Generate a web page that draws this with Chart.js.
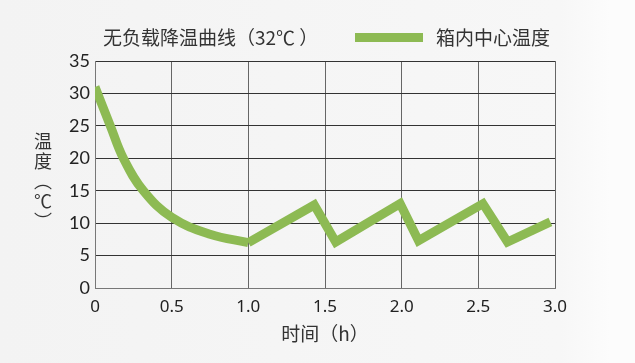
<!DOCTYPE html>
<html>
<head>
<meta charset="utf-8">
<script src="https://cdn.jsdelivr.net/npm/chart.js@4"></script>
<style>
  html, body { margin: 0; padding: 0; }
  body {
    width: 635px; height: 363px; overflow: hidden; position: relative;
    background: linear-gradient(to right, #f3f3f3 0, #f7f7f7 560px, #fcfcfc 610px);
    font-family: "Noto Sans CJK SC", "Noto Sans", sans-serif;
    color: #333;
  }
  #wrap { position: absolute; left: 0; top: 0; width: 635px; height: 363px; }
  .title { position: absolute; left: 103px; top: 23px; font-size: 19px; line-height: 28px; }
  .legend { position: absolute; left: 355px; top: 23px; font-size: 19px; line-height: 28px; display: flex; align-items: center; }
  .legend .bar { display: inline-block; width: 68px; height: 9px; margin-right: 13px; }
  .ytitle { position: absolute; left: 32px; width: 22px; top: 130px; font-size: 18px; line-height: 20px; text-align: center; }
  .ytitle span { display: block; height: 20px; }
  .xtitle { position: absolute; left: 0; width: 650px; text-align: center; top: 320px; font-size: 19px; line-height: 26px; }
</style>
</head>
<body>
<div id="wrap"><canvas id="chart" width="635" height="363"></canvas></div>
<div class="title">无负载降温曲线（32℃ ）</div>
<div class="legend" id="legend"></div>
<div class="ytitle"><span>温</span><span>度</span><span>︵</span><span>℃</span><span>︶</span></div>
<div class="xtitle">时间（h）</div>
<script>
// pull-down curve (first hour, smooth) and door/defrost cycles afterwards
const curveTimes = [0, 0.1, 0.185, 0.315, 0.5, 0.75, 1.0];
const curveTemps = [31, 25, 20, 15, 10.9, 8.3, 7.0];
const cycleTimes = [1.0, 1.43, 1.57, 1.99, 2.11, 2.53, 2.69, 2.97];
const cycleTemps = [7.0, 12.8, 7.1, 13.0, 7.3, 13.0, 7.1, 10.2];

const xTicks = ["0", "0.5", "1.0", "1.5", "2.0", "2.5", "3.0"];
const yTicks = [0, 5, 10, 15, 20, 25, 30, 35];
const seriesName = "箱内中心温度";
const lineColor = "#8dba53";

const toPoints = (xs, ys) => xs.map((x, i) => ({ x: x, y: ys[i] }));

const legend = document.getElementById("legend");
legend.innerHTML = '<span class="bar" style="background:' + lineColor + '"></span>' + seriesName;

const ctx = document.getElementById("chart");
new Chart(ctx, {
  type: "line",
  data: {
    datasets: [
      {
        label: seriesName,
        data: toPoints(curveTimes, curveTemps),
        borderColor: lineColor,
        borderWidth: 9,
        pointRadius: 0,
        tension: 0.4,
        borderCapStyle: "butt",
        borderJoinStyle: "miter",
      },
      {
        label: seriesName,
        data: toPoints(cycleTimes, cycleTemps),
        borderColor: lineColor,
        borderWidth: 9,
        pointRadius: 0,
        tension: 0,
        borderJoinStyle: "miter",
      },
    ],
  },
  options: {
    responsive: false,
    animation: false,
    layout: { padding: { left: 0, right: 80, top: 61, bottom: 0 } },
    plugins: {
      legend: { display: false },
      tooltip: { enabled: false },
    },
    scales: {
      x: {
        type: "linear",
        min: 0,
        max: 3,
        afterBuildTicks: (scale) => {
          scale.ticks = xTicks.map((t) => ({ value: parseFloat(t) }));
        },
        afterFit: (scale) => { scale.height = 75; },
        ticks: {
          callback: (v, i) => xTicks[i],
          color: "#222",
          font: { family: "Noto Sans", size: 17 },
          padding: 9,
          maxRotation: 0,
        },
        grid: { color: "#666", lineWidth: 1, drawTicks: false },
        border: { color: "#777", width: 1 },
      },
      y: {
        min: 0,
        max: 35,
        afterBuildTicks: (scale) => {
          scale.ticks = yTicks.map((v) => ({ value: v }));
        },
        afterFit: (scale) => { scale.width = 95; },
        ticks: {
          color: "#222",
          font: { family: "Lato", size: 18 },
          padding: 5,
        },
        grid: { color: "#333", lineWidth: 1, drawTicks: false },
        border: { color: "#777", width: 1 },
      },
    },
  },
});
</script>
</body>
</html>
